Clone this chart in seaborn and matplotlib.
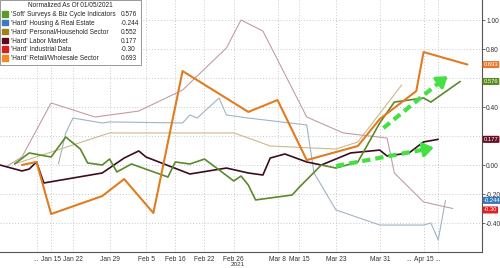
import matplotlib
matplotlib.use("Agg")
import matplotlib.pyplot as plt
import matplotlib.patches as mpatches
import seaborn as sns
import pandas as pd

# ---------------- data (observation index, normalized value) ----------------
soft_idx = [2, 4, 7, 9, 11, 12, 14, 15, 16, 18, 23, 24, 26, 28, 30, 32, 33, 34, 35, 40, 41, 44, 46, 49, 52, 54, 58, 59, 63]
soft_val = [0.007, 0.083, 0.055, 0.193, 0.110, 0.014, 0.0, 0.041, -0.048, 0.007, -0.083, 0.021, 0.007, 0.041,
            -0.034, -0.110, -0.076, -0.138, -0.241, -0.207, -0.152, 0.0, -0.021, 0.021, 0.290, 0.434, 0.462, 0.434, 0.576]

housing_idx = [8, 9, 10, 14, 15, 25, 26, 27, 30, 31, 34, 42, 43, 46, 52, 58, 59, 60, 61]
housing_val = [0.007, 0.221, 0.324, 0.290, 0.297, 0.290, 0.345, 0.324, 0.462, 0.345, 0.324, 0.276, -0.055,
               -0.310, -0.414, -0.414, -0.400, -0.517, -0.244]

personal_idx = [2, 15, 32, 34, 37, 46, 49, 55]
personal_val = [0.007, 0.221, 0.221, 0.186, 0.131, 0.110, 0.159, 0.552]

labor_idx = [0, 3, 4, 5, 6, 14, 17, 19, 20, 26, 31, 34, 36, 37, 39, 42, 44, 48, 52, 53, 56, 58, 60]
labor_val = [0.0, -0.041, -0.028, 0.021, -0.124, -0.055, 0.048, 0.097, 0.055, -0.062, -0.021, -0.055, -0.069,
             0.048, 0.076, 0.021, 0.0, 0.083, 0.103, 0.062, 0.083, 0.159, 0.177]

industrial_idx = [1, 3, 7, 13, 19, 25, 31, 33, 36, 42, 47, 53, 54, 58, 62]
industrial_val = [-0.007, 0.055, 0.428, 0.331, 0.372, 0.517, 0.807, 1.0, 0.924, 0.331, 0.221, 0.186,
                  -0.055, -0.255, -0.30]

retail_idx = [3, 5, 7, 14, 17, 21, 25, 34, 38, 42, 49, 52, 57, 58, 64]
retail_val = [0.0, 0.021, -0.338, -0.214, -0.097, -0.331, 0.648, 0.366, 0.448, 0.034, 0.131, 0.317,
              0.510, 0.779, 0.693]

series_names = ["'Soft' Surveys & Biz Cycle Indicators", "'Hard' Housing & Real Estate",
                "'Hard' Personal/Household Sector", "'Hard' Labor Market",
                "'Hard' Industrial Data", "'Hard' Retail/Wholesale Sector"]
last_labels = ["0.576", "-0.244", "0.552", "0.177", "-0.30", "0.693"]

tick_pos = [5, 7, 10, 15, 20, 24, 28, 32, 38, 41, 46, 52, 56, 58, 60]
tick_labels = ["...", "Jan 15", "Jan 22", "Jan 29", "Feb 5", "Feb 16", "Feb 22", "Feb 26",
               "Mar 8", "Mar 15", "Mar 23", "Mar 31", "...", "Apr 15", "..."]
ytick_vals = [-0.4, -0.2, 0.0, 0.2, 0.4, 0.6, 0.8, 1.0]
ytick_labels = ["-0.40", "-0.20", "0.00", "", "0.40", "", "0.80", "1.00"]

# ---------------- styling ----------------
line_colors = ["#5a8a2a", "#9fb4c6", "#cdb88e", "#3b0d1d", "#c49ca2", "#e07c22"]
line_widths = [1.2, 0.8, 0.8, 1.2, 0.8, 1.5]
swatch_colors = ["#5d9a2a", "#3b7bbf", "#a0801c", "#5a0a1e", "#d91e1e", "#f08a24"]

sns.set_theme(style="white")
plt.rcParams["font.family"] = ["Liberation Sans", "DejaVu Sans"]

fig = plt.figure(figsize=(5.0, 2.68), dpi=100)
ax = fig.add_axes([0.0, 16 / 268, 482 / 500, 252 / 268])

all_idx = [soft_idx, housing_idx, personal_idx, labor_idx, industrial_idx, retail_idx]
all_val = [soft_val, housing_val, personal_val, labor_val, industrial_val, retail_val]
draw_order = [1, 2, 4, 3, 0, 5]
for i in draw_order:
    df = pd.DataFrame({"obs": all_idx[i], "value": all_val[i]})
    sns.lineplot(data=df, x="obs", y="value", ax=ax, color=line_colors[i],
                 linewidth=line_widths[i], estimator=None, sort=False, legend=False)

ax.set_xlim(0, 66)
ax.set_ylim(-0.6, 1.138)
ax.set_xlabel("")
ax.set_ylabel("")

# axes / ticks
ax.set_xticks(tick_pos)
ax.set_xticklabels(tick_labels, fontsize=4.8, color="#333333")
ax.set_xticks(range(0, 67), minor=True)
ax.yaxis.tick_right()
ax.set_yticks(ytick_vals)
ax.set_yticklabels(ytick_labels, fontsize=4.8, color="#333333")
ax.tick_params(axis="x", which="major", length=2.5, width=0.6, color="#555555", pad=0.6)
ax.tick_params(axis="x", which="minor", length=1.8, width=0.5, color="#555555")
ax.tick_params(axis="y", length=2.0, width=0.6, color="#555555", pad=1.0)
for s in ["top", "left"]:
    ax.spines[s].set_visible(False)
for s in ["bottom", "right"]:
    ax.spines[s].set_color("#555555")
    ax.spines[s].set_linewidth(0.8)

ax.grid(True, which="major", axis="both", linestyle=(0, (1, 2)), color="#c8c8c8", linewidth=0.7)
ax.xaxis.get_gridlines()[12].set_visible(False)

fig.text(ax.transData.transform((32.6, 0))[0] / 500, 0.002, "2021", fontsize=4.6,
         color="#333333", ha="center", va="bottom")

# green dashed arrows (annotations)
arrow_col = "#44e044"
for (x0, y0, x1, y1) in [(46, -0.007, 58.2, 0.108), (52.5, 0.255, 60.3, 0.575)]:
    ax.plot([x0, x1], [y0, y1], color=arrow_col, lw=3, ls=(0, (2.0, 1.2)), solid_capstyle="butt", zorder=6)
for (x0, y0, x1, y1) in [(57.6, 0.102, 59.4, 0.12), (59.8, 0.555, 61.3, 0.612)]:
    ax.annotate("", xy=(x1, y1), xytext=(x0, y0),
                arrowprops=dict(arrowstyle="-|>,head_length=0.5,head_width=0.35", color=arrow_col,
                                lw=2.5, shrinkA=0, shrinkB=0), zorder=6)

# right-hand last-value labels
label_bg = {"0.693": "#e5782a", "0.576": "#5c8a1e", "0.177": "#6a0e22", "-0.244": "#3a78b8", "-0.30": "#e02020"}
label_y = {"0.693": 0.693, "0.576": 0.576, "0.177": 0.177, "-0.244": -0.244, "-0.30": -0.31}
for lab, yv in label_y.items():
    ax.annotate(lab, xy=(1.0, yv), xycoords=("axes fraction", "data"), xytext=(1.2, 0),
                textcoords="offset points", fontsize=4.2, color="white", ha="left", va="center",
                bbox=dict(boxstyle="round,pad=0.18", fc=label_bg[lab], ec="none"),
                annotation_clip=False, zorder=10)

# legend: names column + values column
handles = [mpatches.Patch(color=c) for c in swatch_colors] + \
          [mpatches.Patch(facecolor="none", edgecolor="none") for _ in last_labels]
labels = series_names + last_labels
leg = ax.legend(handles, labels, loc="upper left", bbox_to_anchor=(0.0, 1.0), ncol=2,
                title="Normalized As Of 01/05/2021", fontsize=4.7, title_fontsize=4.7,
                frameon=True, fancybox=False, edgecolor="#888888", framealpha=1.0,
                handlelength=0.9, handleheight=0.9, handletextpad=0.4, labelspacing=0.28,
                columnspacing=-0.5, borderpad=0.35, borderaxespad=0.0)
leg.get_frame().set_linewidth(0.6)
leg.set_zorder(20)

fig.savefig("out.png", dpi=100)
